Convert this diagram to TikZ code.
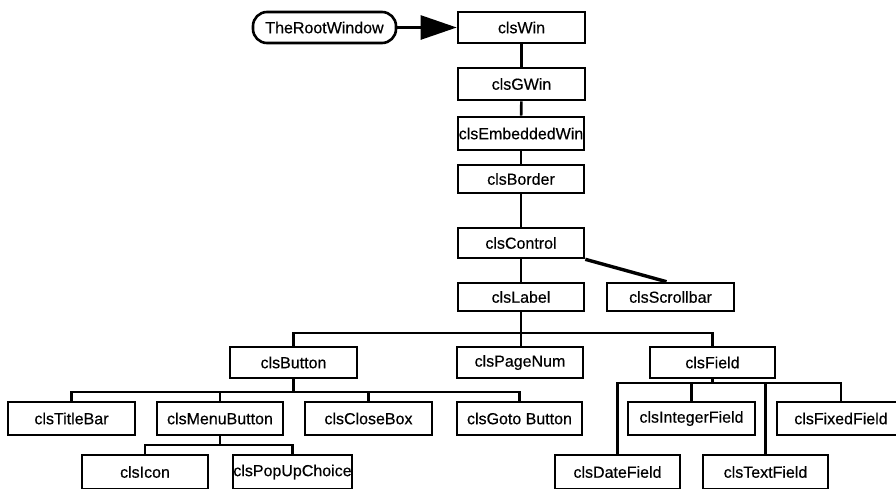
\documentclass[tikz,border=0pt]{standalone}
\usepackage{fontspec}
\setmainfont{Liberation Sans}
\newfontfamily\lblfont{Liberation Sans}[FakeBold=0.4]
\usetikzlibrary{arrows.meta}
\begin{document}
\begin{tikzpicture}[x=1pt,y=-1pt,
  box/.style={draw,line width=2.6pt,inner sep=0pt,minimum width=#1,font=\lblfont\fontsize{16}{18}\selectfont},
  box/.default=127pt,
  conn/.style={line width=2.6pt},
  stadium/.style={draw,line width=2.6pt,rounded corners=14pt,inner sep=0pt,minimum width=143pt,minimum height=31pt,font=\lblfont\fontsize{16}{18}\selectfont}]
\useasboundingbox (0,0) rectangle (896,488);
\clip (0,0) rectangle (896,488);
% nodes
\node[stadium] (root) at (324.5,27.5) {TheRootWindow};
\node[box,minimum height=31pt] (win) at (521.5,27.5) {clsWin};
\node[box,minimum height=32pt] (gwin) at (521.5,84) {clsGWin};
\node[box=126pt,minimum height=33pt] (emb) at (521,133.5) {clsEmbeddedWin};
\node[box=126pt,minimum height=28pt] (border) at (521,179) {clsBorder};
\node[box=126pt,minimum height=30pt] (control) at (521,243) {clsControl};
\node[box=126pt,minimum height=28pt] (label) at (521,297) {clsLabel};
\node[box=127pt,minimum height=28pt] (scroll) at (670.5,297) {clsScrollbar};
\node[box=127pt,minimum height=31pt] (button) at (293.5,362.5) {clsButton};
\node[box=126pt,minimum height=31pt] (pagenum) at (520,362.5) {clsPageNum};
\node[box=125pt,minimum height=31pt] (field) at (712.5,362.5) {clsField};
\node[box=127pt,minimum height=33pt] (titlebar) at (71.5,418.5) {clsTitleBar};
\node[box=126pt,minimum height=33pt] (menu) at (220,418.5) {clsMenuButton};
\node[box=127pt,minimum height=33pt] (close) at (368.5,418.5) {clsCloseBox};
\node[box=125pt,minimum height=33pt] (goto) at (519.5,418.5) {clsGoto Button};
\node[box=127pt,minimum height=33pt] (integer) at (691.5,418.5) {clsIntegerField};
\node[box=128pt,minimum height=33pt] (fixed) at (841,418.5) {clsFixedField};
\node[box=126pt,minimum height=34pt] (icon) at (145,472) {clsIcon};
\node[box=119pt,minimum height=34pt] (popup) at (292.5,472) {clsPopUpChoice};
\node[box=125pt,minimum height=34pt] (date) at (617.5,472) {clsDateField};
\node[box=125pt,minimum height=34pt] (text) at (765.5,472) {clsTextField};
% bar levels
\coordinate (bL) at (0,333);
\coordinate (bB) at (0,392);
\coordinate (bM) at (0,445);
\coordinate (bF) at (0,383);
% connectors
\draw[conn,-{Triangle[length=36pt,width=24pt]}] (root.east) -- (win.west);
\draw[conn] (win) -- (gwin);
\draw[conn] (gwin) -- (emb);
\draw[conn] (emb) -- (border);
\draw[conn] (border) -- (control);
\draw[conn] (control) -- (label);
\draw[line width=3.4pt] (control.south east) -- ([xshift=-4pt]scroll.north);
\draw[conn] (label.south) -- (label.south |- pagenum.north);
\draw[conn] (button.north) -- (button.north |- bL) -- (field.north |- bL) -- (field.north);
\draw[conn] (button.south) -- (button.south |- bB);
\draw[conn] (titlebar.north) -- (titlebar.north |- bB) -- (goto.north |- bB) -- (goto.north);
\draw[conn] (menu.north) -- (menu.north |- bB);
\draw[conn] (close.north) -- (close.north |- bB);
\draw[conn] (menu.south) -- (menu.south |- bM);
\draw[conn] (icon.north) -- (icon.north |- bM) -- (popup.north |- bM) -- (popup.north);
\draw[conn] (field.south) -- (field.south |- bF);
\draw[conn] (date.north) -- (date.north |- bF) -- (fixed.north |- bF) -- (fixed.north);
\draw[conn] (integer.north) -- (integer.north |- bF);
\draw[conn] (text.north) -- (text.north |- bF);
\end{tikzpicture}
\end{document}
